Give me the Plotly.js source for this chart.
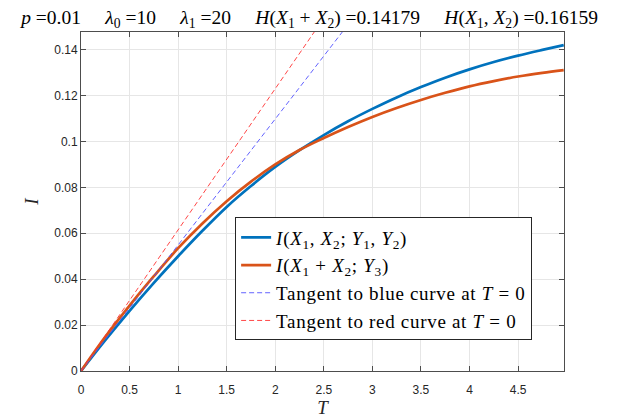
<!DOCTYPE html>
<html>
<head>
<meta charset="utf-8">
<script src="https://cdn.plot.ly/plotly-3.0.1.min.js"></script>
<style>
html,body{margin:0;padding:0;background:#fff;}
#plot{width:623px;height:418px;}
.legendtext{letter-spacing:0.7px;}
</style>
</head>
<body>
<div id="plot"></div>
<script>
// Time values T
const T = [0, 0.25, 0.5, 0.75, 1, 1.25, 1.5, 1.75, 2, 2.25, 2.5, 2.75, 3, 3.25, 3.5, 3.75, 4, 4.25, 4.5, 4.75, 4.97];
// I(X1,X2;Y1,Y2)  (blue)
const blueI = [0, 0.0134, 0.0262, 0.0384, 0.0500, 0.0611, 0.0715, 0.0806, 0.0889, 0.0962, 0.1028, 0.1088, 0.1142, 0.1192, 0.1237, 0.1278, 0.1314, 0.1346, 0.1374, 0.1399, 0.1420];
// I(X1+X2;Y3)  (red)
const redI = [0, 0.0149, 0.0285, 0.0413, 0.0535, 0.0643, 0.0740, 0.0825, 0.0900, 0.0963, 0.1015, 0.1063, 0.1107, 0.1146, 0.1181, 0.1212, 0.1240, 0.1263, 0.1283, 0.1299, 0.1311];
// tangent slopes at T = 0
const blueSlope = 0.0549;
const redSlope = 0.0615;
const tangentT = [0, 4.97];

const xTickVals = [0, 0.5, 1, 1.5, 2, 2.5, 3, 3.5, 4, 4.5];
const xTickText = ["0", "0.5", "1", "1.5", "2", "2.5", "3", "3.5", "4", "4.5"];
const yTickVals = [0, 0.02, 0.04, 0.06, 0.08, 0.1, 0.12, 0.14];
const yTickText = ["0", "0.02", "0.04", "0.06", "0.08", "0.1", "0.12", "0.14"];

const serif = "Liberation Serif, DejaVu Serif, serif";
const sans = "Liberation Sans, Arial, sans-serif";
const S = "\u00A0";
const GAP = S + S + S + S + S;

const traces = [
  {x: T, y: blueI, mode: "lines", line: {color: "#0072BD", width: 2.7, shape: "spline", smoothing: 1},
   name: "<i>I</i>(<i>X</i><sub>1</sub>, <i>X</i><sub>2</sub>; <i>Y</i><sub>1</sub>, <i>Y</i><sub>2</sub>)"},
  {x: T, y: redI, mode: "lines", line: {color: "#D95319", width: 2.7, shape: "spline", smoothing: 1},
   name: "<i>I</i>(<i>X</i><sub>1</sub> + <i>X</i><sub>2</sub>; <i>Y</i><sub>3</sub>)"},
  {x: tangentT, y: tangentT.map(t => blueSlope * t), mode: "lines",
   line: {color: "rgb(80,80,255)", width: 0.9, dash: "5px,3px"},
   name: "Tangent to blue curve at <i>T</i> = 0"},
  {x: tangentT, y: tangentT.map(t => redSlope * t), mode: "lines",
   line: {color: "rgb(255,50,50)", width: 0.9, dash: "5px,3px"},
   name: "Tangent to red curve at <i>T</i> = 0"}
];

const axisCommon = {
  showgrid: true, gridcolor: "#e6e6e6", gridwidth: 1,
  zeroline: false, showline: true, linecolor: "#4d4d4d", linewidth: 1,
  mirror: "ticks", ticks: "inside", ticklen: 5, tickcolor: "#4d4d4d", tickwidth: 1,
  tickfont: {family: sans, size: 12, color: "#262626"}
};

const layout = {
  width: 623, height: 418,
  margin: {l: 81, r: 59, t: 31.5, b: 46.5},
  paper_bgcolor: "#fff", plot_bgcolor: "#fff",
  showlegend: true,
  title: {
    text: "<i>p</i> =0.01" + GAP + "<i>λ</i><sub>0</sub> =10" + GAP + "<i>λ</i><sub>1</sub> =20" + GAP +
          "<i>H</i>(<i>X</i><sub>1</sub> + <i>X</i><sub>2</sub>) =0.14179" + GAP +
          "<i>H</i>(<i>X</i><sub>1</sub>, <i>X</i><sub>2</sub>) =0.16159",
    font: {family: serif, size: 19.5, color: "#000"},
    x: 0.034, xanchor: "left", y: 0.958, yanchor: "middle", xref: "container", yref: "container"
  },
  xaxis: Object.assign({}, axisCommon, {
    range: [0, 4.973], tickvals: xTickVals, ticktext: xTickText, ticklabelstandoff: 8,
    title: {text: "<i>T</i>", font: {family: serif, size: 19, color: "#262626"}, standoff: 4}
  }),
  yaxis: Object.assign({}, axisCommon, {
    range: [0, 0.1477], tickvals: yTickVals, ticktext: yTickText,
    title: {text: "<i>I</i>", font: {family: serif, size: 19, color: "#262626"}, standoff: 10}
  }),
  legend: {
    x: 0.934, y: 0.09, xanchor: "right", yanchor: "bottom",
    bgcolor: "#fff", bordercolor: "#262626", borderwidth: 1,
    font: {family: serif, size: 19, color: "#000"},
    tracegroupgap: 0, itemwidth: 30
  }
};

Plotly.newPlot("plot", traces, layout, {staticPlot: true, displayModeBar: false});
</script>
</body>
</html>
